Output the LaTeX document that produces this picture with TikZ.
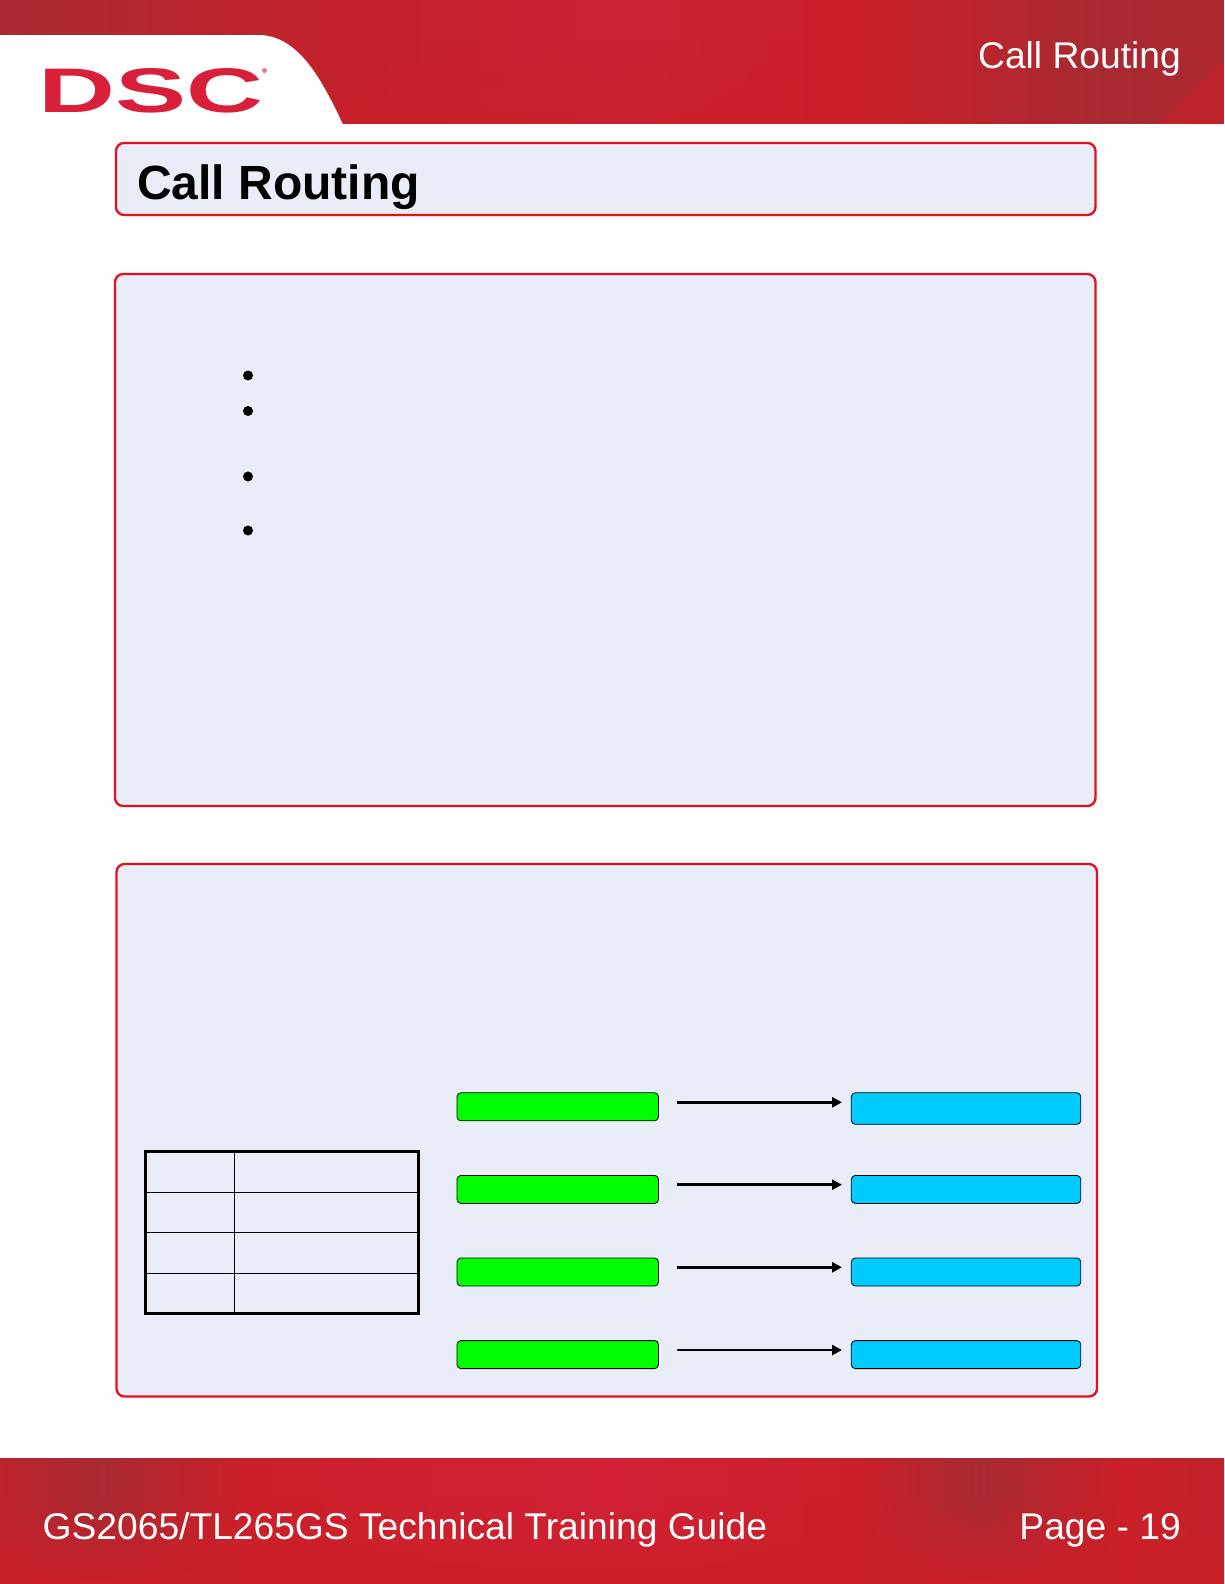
\documentclass[tikz,border=0pt]{standalone}
\usepackage{fontspec}
\setmainfont{Liberation Sans}
\usetikzlibrary{arrows.meta,fadings}
\definecolor{panelfill}{HTML}{E8EDF7}
\definecolor{panelline}{HTML}{E60F1E}
\definecolor{logored}{HTML}{D9203A}
\definecolor{gbox}{HTML}{00FF00}
\definecolor{bbox}{HTML}{00CCFF}
\definecolor{banddark}{HTML}{A82A31}
\definecolor{bandred}{HTML}{CB2029}
\definecolor{bandbright}{HTML}{D22136}
\pgfdeclarehorizontalshading{topband}{100bp}{
  color(0bp)=(banddark);
  color(25bp)=(banddark);
  color(38bp)=(bandred!75!banddark);
  color(50bp)=(bandbright!85!banddark);
  color(60bp)=(bandred);
  color(66bp)=(banddark!60!bandred);
  color(70bp)=(banddark);
  color(75bp)=(banddark!80!bandred);
  color(100bp)=(banddark)}
\pgfdeclarehorizontalshading{lowband}{100bp}{
  color(0bp)=(bandred);
  color(25bp)=(bandred!60!banddark);
  color(29bp)=(banddark);
  color(35bp)=(bandred);
  color(50bp)=(bandbright);
  color(60bp)=(bandred);
  color(65bp)=(banddark);
  color(71bp)=(bandred);
  color(75bp)=(bandred!70!banddark);
  color(100bp)=(bandred)}
\tikzset{
  x=1pt,y=-1pt,
  panel/.style={draw=panelline,fill=panelfill,line width=2.3pt,rounded corners=8pt},
  bandtext/.style={text=white,inner sep=0pt,font=\fontsize{37.2}{37.2}\selectfont},
  greenbox/.style={draw=black,fill=gbox,line width=0.8pt,rounded corners=4pt,anchor=north west,inner sep=0pt,outer sep=0pt,minimum width=201.5pt},
  bluebox/.style={draw=black,fill=bbox,line width=0.8pt,rounded corners=4pt,anchor=north west,inner sep=0pt,outer sep=0pt,minimum width=229.5pt},
  flow/.style={draw=black,line width=2.6pt,-{Triangle[length=10pt,width=10pt]}},
  bulletdot/.style={circle,fill=black,inner sep=0pt,minimum size=10pt},
  cell/.style={draw=black,line width=0.9pt,anchor=north west,inner sep=0pt,outer sep=0pt,minimum height=40.5pt},
}
\begin{document}
\begin{tikzpicture}
\useasboundingbox (0,0) rectangle (1224,1584);
\fill[white] (0,0) rectangle (1224,1584);

% header band
\begin{scope}
  \clip (0,0) -- (1224,0) -- (1224,124) -- (343,124)
    .. controls (322,80) and (300,38) .. (262,35) -- (0,35) -- cycle;
  \shade[shading=topband] (0,0) rectangle (1224,124);
  \fill[bandred,opacity=.55] (1160,124) -- (1224,60) -- (1224,124) -- cycle;
  \fill[bandred,path fading=north,opacity=.6] (340,40) rectangle (800,124);
\end{scope}

% footer band
\begin{scope}
  \clip (0,1458) rectangle (1224,1584);
  \shade[shading=lowband] (0,1458) rectangle (1224,1584);
  \fill[bandred,path fading=north] (0,1500) rectangle (1224,1584);
\end{scope}
\draw[banddark,line width=1pt] (0,1458) -- (1224,1458);

% logo
\node[anchor=north west,inner sep=0pt,text=logored] (logo) at (38,68)
  {\resizebox{225pt}{44pt}{\textbf{DSC}}};
\node[circle,fill=logored!60!white,inner sep=0pt,minimum size=5pt] (logoreg) at (264.5,70.5) {};

% band texts
\node[bandtext,anchor=base east] (headtitle) at (1181,69) {Call Routing};
\node[bandtext,anchor=base west] (foot) at (42.5,1539) {GS2065/TL265GS Technical Training Guide};
\node[bandtext,anchor=base east] (pageno) at (1181,1539) {Page - 19};

% panels
\draw[panel] (116,143) rectangle (1095.5,215);
\node[anchor=base west,inner sep=0pt,font=\fontsize{48}{48}\selectfont\bfseries] (title) at (137,199.5) {Call Routing};
\draw[panel] (115,274) rectangle (1095.5,806);
\draw[panel] (116.5,864) rectangle (1097,1396.5);

% bullets
\node[bulletdot] (b1) at (248,375.5) {};
\node[bulletdot] (b2) at (248,411) {};
\node[bulletdot] (b3) at (248,476.5) {};
\node[bulletdot] (b4) at (248,530.5) {};

% table
\node[cell,minimum width=89pt]  (c11) at (145.5,1151.8) {};
\node[cell,minimum width=184pt] (c12) at (234.5,1151.8) {};
\node[cell,minimum width=89pt]  (c21) at (c11.south west) {};
\node[cell,minimum width=184pt] (c22) at (c12.south west) {};
\node[cell,minimum width=89pt]  (c31) at (c21.south west) {};
\node[cell,minimum width=184pt] (c32) at (c22.south west) {};
\node[cell,minimum width=89pt]  (c41) at (c31.south west) {};
\node[cell,minimum width=184pt] (c42) at (c32.south west) {};
\draw[line width=1.6pt] (c31.south west) -- (c32.south east);
\draw[line width=2.8pt] (c11.north west) rectangle (c42.south east);

% boxes
\node[greenbox,minimum height=28pt] (g1) at (457,1092.8) {};
\node[greenbox,minimum height=28pt] (g2) at (457,1175.4) {};
\node[greenbox,minimum height=28pt] (g3) at (457,1258) {};
\node[greenbox,minimum height=28pt] (g4) at (457,1340.6) {};
\node[bluebox,minimum height=31.5pt] (r1) at (851.3,1092.8) {};
\node[bluebox,minimum height=28pt] (r2) at (851.3,1175.4) {};
\node[bluebox,minimum height=28pt] (r3) at (851.3,1258) {};
\node[bluebox,minimum height=28pt] (r4) at (851.3,1340.6) {};

% arrows
\coordinate (a1s) at (677,1102.3); \coordinate (a1e) at (842,1102.3);
\coordinate (a2s) at (677,1184.7); \coordinate (a2e) at (842,1184.7);
\coordinate (a3s) at (677,1267.3); \coordinate (a3e) at (842,1267.3);
\coordinate (a4s) at (677,1350);   \coordinate (a4e) at (842,1350);
\draw[flow] (a1s) -- (a1e);
\draw[flow] (a2s) -- (a2e);
\draw[flow] (a3s) -- (a3e);
\draw[flow] (a4s) -- (a4e);
\end{tikzpicture}
\end{document}
